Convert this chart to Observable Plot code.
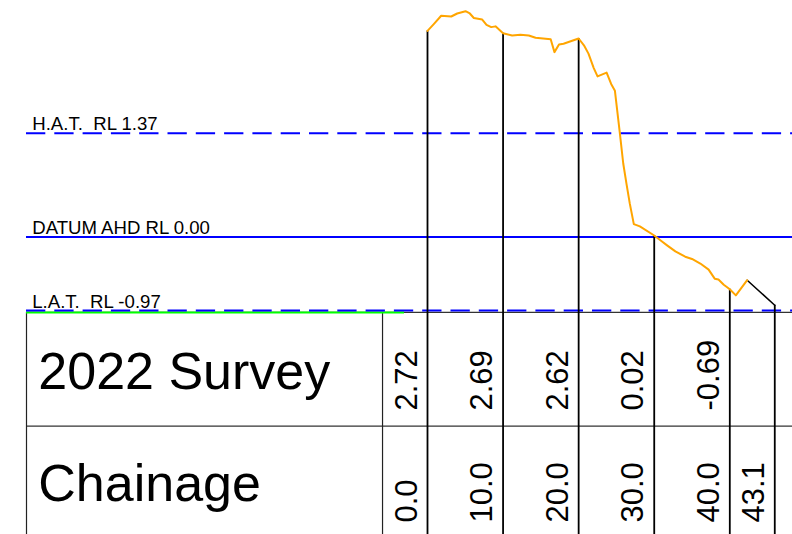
<!DOCTYPE html>
<html><head><meta charset="utf-8">
<script src="https://cdn.jsdelivr.net/npm/d3@7"></script>
<script src="https://cdn.jsdelivr.net/npm/@observablehq/plot@0.6"></script>
<style>html,body{margin:0;padding:0;background:#fff;} svg text{white-space:pre;}</style>
</head><body><div id="chart"></div>
<script>
// Table columns
const chainageLabels = ["0.0", "10.0", "20.0", "30.0", "40.0", "43.1"];
const chainagePos = [0, 10, 20, 30, 40, 45.95];
const surveyLabels = ["2.72", "2.69", "2.62", "0.02", "-0.69", ""];
const lineTopRL = [2.72, 2.69, 2.62, 0.02, -0.69, -0.90];

// 2022 survey profile (chainage m, RL m)
const profileCh = [0, 0.83, 1.81, 3.14, 3.93, 5.03, 5.6, 6.13, 7.24, 7.81, 8.43, 9.0, 10,
  11.2, 12.3, 13.4, 14.3, 16.3, 16.8, 17.4, 18.0, 20,
  20.7, 21.3, 22.0, 22.5, 23.7, 24.3, 24.8, 25.1, 25.44, 25.9, 26.33, 26.77, 27.3, 28.1, 30,
  30.9, 31.7, 32.8, 34.1, 35.0, 36.1, 37.2, 38.0, 38.5, 39.2, 40, 40.8, 42.3];
const profileRL = [2.72, 2.81, 2.92, 2.91, 2.95, 2.98, 2.95, 2.89, 2.87, 2.80, 2.77, 2.78, 2.69,
  2.66, 2.67, 2.66, 2.63, 2.61, 2.44, 2.54, 2.55, 2.62,
  2.53, 2.42, 2.23, 2.12, 2.17, 2.02, 1.93, 1.67, 1.38, 0.97, 0.70, 0.44, 0.17, 0.14, 0.02,
  -0.05, -0.11, -0.19, -0.26, -0.29, -0.35, -0.43, -0.55, -0.56, -0.63, -0.69, -0.77, -0.57];
// closing segment to end of section
const endCh = [42.3, 45.95];
const endRL = [-0.57, -0.90];

// Tide levels
const levelNames = ["H.A.T.  RL 1.37", "DATUM AHD RL 0.00", "L.A.T.  RL -0.97"];
const levelRL = [1.37, 0, -0.97];
const levelDashed = [true, false, true];

// Table rows
const rowNames = ["2022 Survey", "Chainage"];

// Table frame, in chart units
const tableLeft = -53.06, tableDivider = -5.95, greenEnd = -3.04, chartRight = 50;
const tableTop = -0.995, rowSplit = -2.497, tableBottom = -3.95;
const rowMid = [(tableTop + rowSplit) / 2, (rowSplit + tableBottom) / 2];
const surveyTextRL = -2.29, chainageTextRL = -3.768;
const labelCh = -52.3, rowLabelCh = -51.5;

const profile = profileCh.map((c, i) => ({c, rl: profileRL[i]}));
const endSeg = endCh.map((c, i) => ({c, rl: endRL[i]}));
const cols = chainageLabels.map((lab, i) => ({lab, pos: chainagePos[i], top: lineTopRL[i], survey: surveyLabels[i]}));
const levels = levelNames.map((name, i) => ({name, rl: levelRL[i], dashed: levelDashed[i]}));
const rows = rowNames.map((name, i) => ({name, mid: rowMid[i]}));

const font = "Liberation Sans, Arial, Helvetica, sans-serif";

const chart = Plot.plot({
  width: 792,
  height: 534,
  margin: 0,
  x: {domain: [0, 40], range: [427, 729.3], axis: null},
  y: {domain: [-0.97, 1.37], range: [310, 132.7], axis: null},
  style: {background: "#fff", fontFamily: font, color: "#000"},
  marks: [
    // table frame
    Plot.ruleY([tableTop, rowSplit], {x1: tableLeft, x2: chartRight, stroke: "#333", strokeWidth: 1.2}),
    Plot.ruleX([tableLeft, tableDivider], {y1: tableTop, y2: tableBottom, stroke: "#222", strokeWidth: 1.2}),
    Plot.ruleY([tableTop], {x1: tableLeft, x2: greenEnd, stroke: "#00ff00", strokeWidth: 2}),
    // tide levels
    Plot.ruleY(levels.filter(d => d.dashed), {y: "rl", x1: tableLeft, x2: chartRight, stroke: "#0000ff", strokeWidth: 2, strokeDasharray: "19.3,9"}),
    Plot.ruleY(levels.filter(d => !d.dashed), {y: "rl", x1: tableLeft, x2: chartRight, stroke: "#0000ff", strokeWidth: 2}),
    Plot.text(levels, {x: labelCh, y: "rl", text: "name", textAnchor: "start", lineAnchor: "bottom", dy: -3, fontSize: 18.6, fill: "#000"}),
    // chainage verticals
    Plot.ruleX(cols, {x: "pos", y1: "top", y2: tableBottom, stroke: "#000", strokeWidth: 1.8}),
    // profile
    Plot.line(endSeg, {x: "c", y: "rl", stroke: "#000", strokeWidth: 1.5}),
    Plot.line(profile, {x: "c", y: "rl", stroke: "#ffa500", strokeWidth: 2}),
    // table text
    Plot.text(rows, {x: rowLabelCh, y: "mid", text: "name", textAnchor: "start", lineAnchor: "middle", dy: 3, fontSize: 52, fill: "#000"}),
    Plot.text(cols.filter(d => d.survey !== ""), {x: "pos", y: surveyTextRL, text: "survey", rotate: -90, textAnchor: "start", lineAnchor: "bottom", dx: -11, fontSize: 31, fill: "#000"}),
    Plot.text(cols, {x: "pos", y: chainageTextRL, text: "lab", rotate: -90, textAnchor: "start", lineAnchor: "bottom", dx: -11, fontSize: 31, fill: "#000"})
  ]
});
document.getElementById("chart").appendChild(chart);
</script>
</body></html>
